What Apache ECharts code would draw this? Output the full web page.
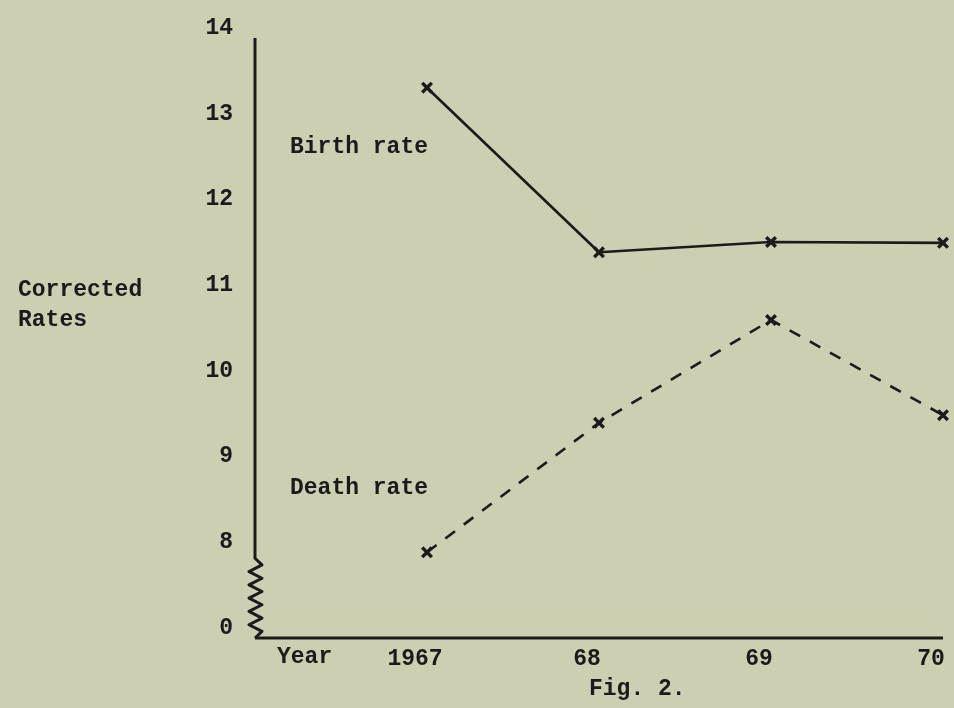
<!DOCTYPE html>
<html style="height: 100%">
    <head>
        <meta charset="utf-8">
    </head>
    <body style="height: 100%; margin: 0; background: #cdcfb3">
        <div id="container" style="width: 954px; height: 708px"></div>

        <script type="text/javascript" src="https://cdn.jsdelivr.net/npm/echarts@6.0.0/dist/echarts.min.js"></script>

        <script type="text/javascript">
// data
var years = [1967, 1968, 1969, 1970];
var yearLabels = ['1967', '68', '69', '70'];
var birthRate = [13.42, 11.5, 11.62, 11.61];
var deathRate = [8.0, 9.51, 10.71, 9.6];
// y axis is broken below 8: the bottom tick (7 on the scale) is labelled 0
var yTicks = [7, 8, 9, 10, 11, 12, 13, 14];
var yTickLabels = ['0', '8', '9', '10', '11', '12', '13', '14'];

var ink = '#1b1b1b';
var font = 'Liberation Mono';

// bold typewriter cross
var cross = 'path://M0,2L2,0L5,3L8,0L10,2L7,5L10,8L8,10L5,7L2,10L0,8L3,5Z';

function pairs(vals) {
    var out = [];
    for (var i = 0; i < years.length; i++) out.push([years[i], vals[i]]);
    return out;
}

function txt(x, y, s) {
    return {
        type: 'text',
        x: x,
        y: y,
        style: {
            text: s,
            fill: ink,
            font: 'bold 23px "' + font + '"',
            verticalAlign: 'middle'
        }
    };
}

function draw() {
    var dom = document.getElementById("container");
    var myChart = echarts.init(dom);

    var option = {
        backgroundColor: '#cdcfb3',
        animation: false,
        grid: { left: 255, right: 11, top: 38, bottom: 70, containLabel: false, outerBoundsMode: 'none' },
        xAxis: {
            type: 'value',
            min: 1966,
            max: 1970,
            interval: 1,
            axisLine: { show: false },
            axisTick: { show: false },
            splitLine: { show: false },
            axisLabel: {
                margin: 10,
                color: ink,
                fontFamily: font,
                fontWeight: 'bold',
                fontSize: 23,
                lineHeight: 23,
                padding: [0, 24, 0, 0],
                formatter: function (v) {
                    var i = years.indexOf(v);
                    return i < 0 ? '' : yearLabels[i];
                }
            }
        },
        yAxis: {
            type: 'value',
            min: 7,
            max: 14,
            interval: 1,
            axisLine: { show: false },
            axisTick: { show: false },
            splitLine: { show: false },
            axisLabel: {
                margin: 22,
                color: ink,
                fontFamily: font,
                fontWeight: 'bold',
                fontSize: 23,
                lineHeight: 20,
                verticalAlign: 'bottom',
                formatter: function (v) {
                    var i = yTicks.indexOf(v);
                    return i < 0 ? '' : yTickLabels[i];
                }
            }
        },
        series: [
            {
                name: 'Birth rate',
                type: 'line',
                data: pairs(birthRate),
                symbol: cross,
                symbolSize: 12,
                itemStyle: { color: ink },
                lineStyle: { color: ink, width: 2.6 }
            },
            {
                name: 'Death rate',
                type: 'line',
                data: pairs(deathRate),
                symbol: cross,
                symbolSize: 12,
                itemStyle: { color: ink },
                lineStyle: { color: ink, width: 2.6, type: [12, 11] }
            }
        ]
    };

    myChart.setOption(option);

    // axes with the zigzag break, placed through the chart's own scales
    var pTop = myChart.convertToPixel({ gridIndex: 0 }, [1966, 14]);
    var pBrk = myChart.convertToPixel({ gridIndex: 0 }, [1966, 7.93]);
    var pBot = myChart.convertToPixel({ gridIndex: 0 }, [1966, 7]);
    var pEnd = myChart.convertToPixel({ gridIndex: 0 }, [1970, 7]);

    var pts = [pTop, pBrk];
    var n = 12;
    for (var k = 1; k < n; k++) {
        var yy = pBrk[1] + (pBot[1] - pBrk[1]) * k / n;
        pts.push([pBrk[0] + (k % 2 ? 7 : -6), yy]);
    }
    pts.push(pBot);

    myChart.setOption({
        graphic: [
            { type: 'polyline', shape: { points: pts }, style: { stroke: ink, lineWidth: 3, fill: null, lineJoin: 'round' } },
            { type: 'line', shape: { x1: pBot[0], y1: pBot[1], x2: pEnd[0], y2: pEnd[1] }, style: { stroke: ink, lineWidth: 3 } },
            txt(18, 290, 'Corrected'),
            txt(18, 320, 'Rates'),
            txt(290, 147, 'Birth rate'),
            txt(290, 488, 'Death rate'),
            txt(277, 657, 'Year'),
            txt(589, 689, 'Fig. 2.')
        ]
    });
}

draw();
        </script>
    </body>
</html>
